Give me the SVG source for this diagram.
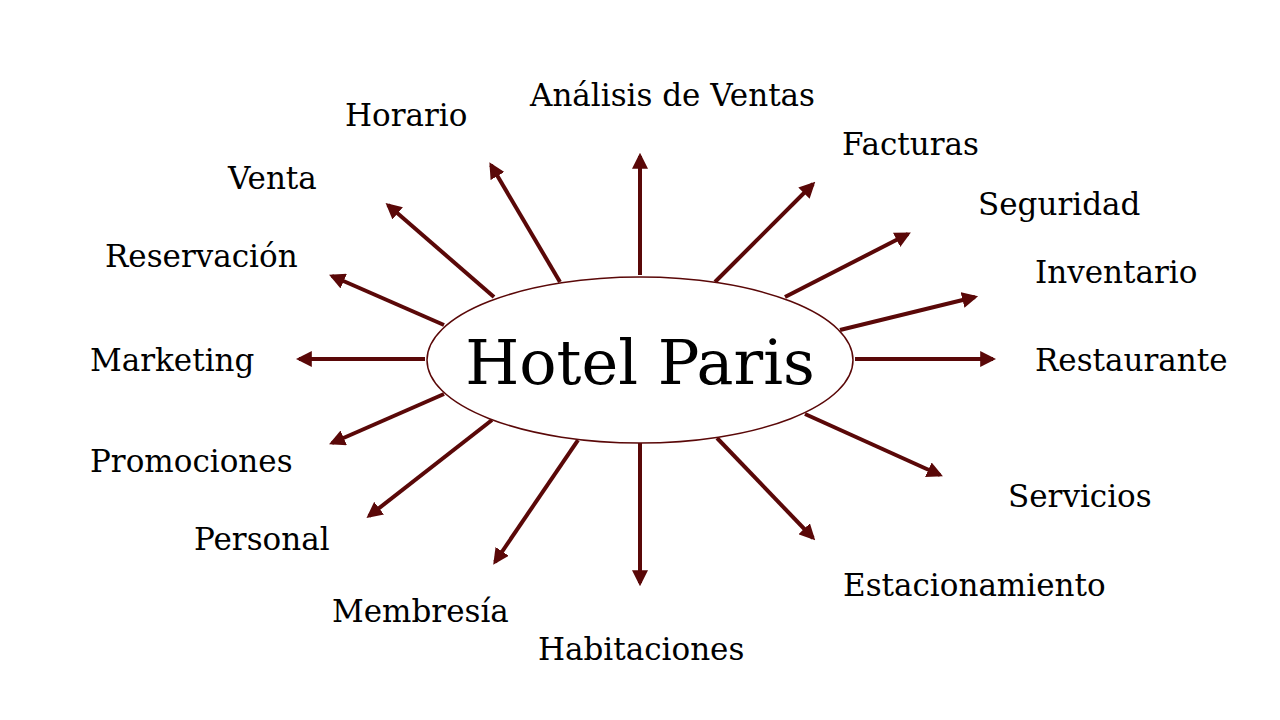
<svg xmlns="http://www.w3.org/2000/svg" width="1280" height="720" viewBox="0 0 1280 720">
<style>
.lbl{font-family:"DejaVu Serif","Liberation Serif",serif;font-size:31px;fill:#000}
.c line{stroke:#5a0808;stroke-width:4;marker-end:url(#ah)}
</style>
<defs>
<marker id="ah" viewBox="0 0 10 10" refX="8" refY="5" markerWidth="4" markerHeight="4" orient="auto" markerUnits="strokeWidth">
<path d="M0,0 L10,5 L0,10 z" fill="#5a0808"/>
</marker>
</defs>
<rect width="1280" height="720" fill="#fff"/>
<g class="c" id="connectors">
<line x1="640" y1="275" x2="640" y2="156"/>
<line x1="560" y1="282" x2="491" y2="165"/>
<line x1="494" y1="297" x2="388" y2="205"/>
<line x1="444" y1="325" x2="332" y2="276"/>
<line x1="425" y1="359" x2="299" y2="359"/>
<line x1="444" y1="394" x2="332" y2="443"/>
<line x1="492" y1="420" x2="369" y2="516"/>
<line x1="578" y1="440" x2="495" y2="562"/>
<line x1="640" y1="443" x2="640" y2="583"/>
<line x1="717" y1="438" x2="813" y2="538"/>
<line x1="805" y1="414" x2="940" y2="475"/>
<line x1="855" y1="359" x2="993" y2="359"/>
<line x1="840" y1="330" x2="975" y2="297"/>
<line x1="785" y1="297" x2="908" y2="234"/>
<line x1="715" y1="282" x2="813" y2="184"/>
</g>
<g id="center">
<ellipse cx="640" cy="360" rx="213" ry="83" fill="#fff" stroke="#5a0808" stroke-width="1.5"/>
<text x="640" y="384" text-anchor="middle" style="font-family:'DejaVu Serif','Liberation Serif',serif;font-size:62px">Hotel Paris</text>
</g>
<g id="n-analisis"><text class="lbl" x="530" y="106">Análisis de Ventas</text></g>
<g id="n-horario"><text class="lbl" x="345" y="126">Horario</text></g>
<g id="n-venta"><text class="lbl" x="228" y="189">Venta</text></g>
<g id="n-reservacion"><text class="lbl" x="105" y="267">Reservación</text></g>
<g id="n-marketing"><text class="lbl" x="90" y="371">Marketing</text></g>
<g id="n-promociones"><text class="lbl" x="90" y="472">Promociones</text></g>
<g id="n-personal"><text class="lbl" x="194" y="550">Personal</text></g>
<g id="n-membresia"><text class="lbl" x="332" y="622">Membresía</text></g>
<g id="n-habitaciones"><text class="lbl" x="538" y="660">Habitaciones</text></g>
<g id="n-estacionamiento"><text class="lbl" x="843" y="596">Estacionamiento</text></g>
<g id="n-servicios"><text class="lbl" x="1008" y="507">Servicios</text></g>
<g id="n-restaurante"><text class="lbl" x="1035" y="371">Restaurante</text></g>
<g id="n-inventario"><text class="lbl" x="1035" y="283">Inventario</text></g>
<g id="n-seguridad"><text class="lbl" x="978" y="215">Seguridad</text></g>
<g id="n-facturas"><text class="lbl" x="842" y="155">Facturas</text></g>
</svg>
